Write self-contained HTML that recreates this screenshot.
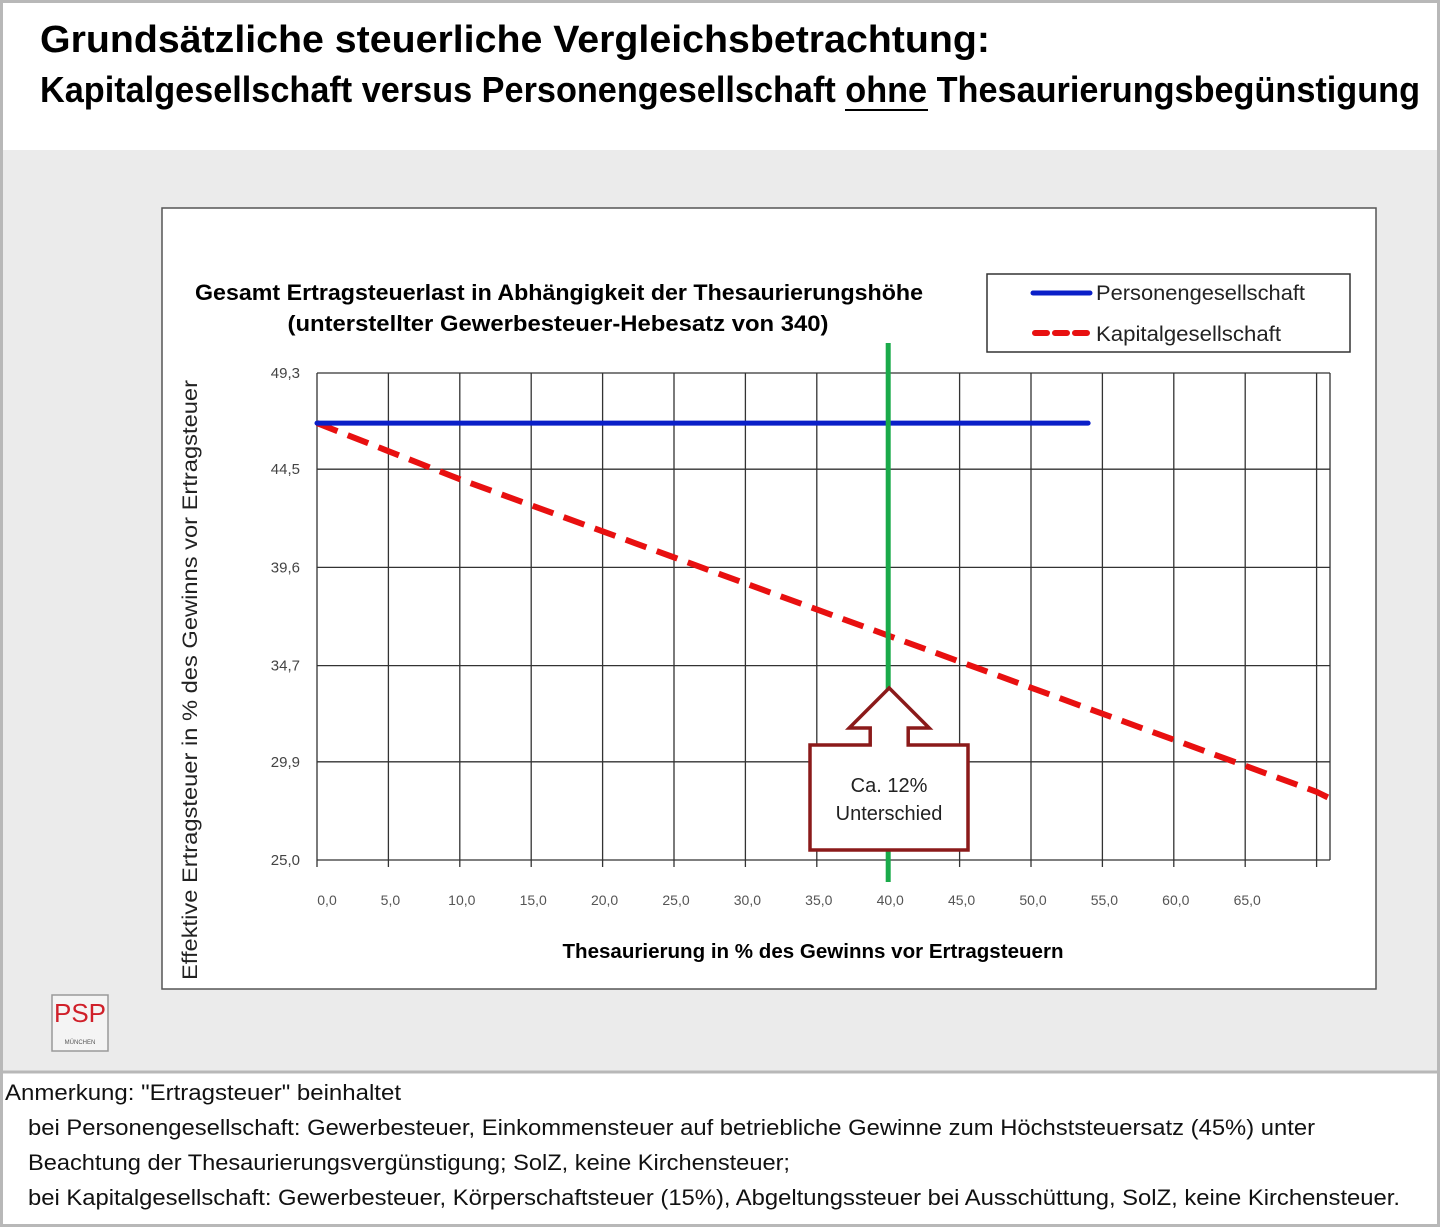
<!DOCTYPE html>
<html><head><meta charset="utf-8"><style>
html,body{margin:0;padding:0;background:#fff}
svg text{font-family:"Liberation Sans",sans-serif}
</style></head><body>
<svg id="chart" width="1440" height="1227" xmlns="http://www.w3.org/2000/svg">
<rect x="1.5" y="1.5" width="1437" height="1224" fill="#fff" stroke="#b8b8b8" stroke-width="3"/>
<text x="40" y="52" font-size="38" font-weight="bold" textLength="950" lengthAdjust="spacingAndGlyphs">Grundsätzliche steuerliche Vergleichsbetrachtung:</text>
<text x="40" y="102" font-size="36" font-weight="bold" textLength="1380" lengthAdjust="spacingAndGlyphs">Kapitalgesellschaft versus Personengesellschaft ohne Thesaurierungsbegünstigung</text>
<line x1="845" y1="110" x2="928" y2="110" stroke="#000" stroke-width="2"/>
<rect x="3" y="150" width="1434" height="922" fill="#ebebeb"/>
<line x1="3" y1="1072" x2="1437" y2="1072" stroke="#b8b8b8" stroke-width="3"/>
<rect x="162" y="208" width="1214" height="781" fill="#fff" stroke="#555" stroke-width="1.5"/>
<text x="559" y="300" font-size="22" font-weight="bold" text-anchor="middle" textLength="728" lengthAdjust="spacingAndGlyphs">Gesamt Ertragsteuerlast in Abhängigkeit der Thesaurierungshöhe</text>
<text x="558" y="331" font-size="22" font-weight="bold" text-anchor="middle" textLength="541" lengthAdjust="spacingAndGlyphs">(unterstellter Gewerbesteuer-Hebesatz von 340)</text>
<g>
<rect x="987" y="274" width="363" height="78" fill="#fff" stroke="#333" stroke-width="1.5"/>
<line x1="1033" y1="293" x2="1090" y2="293" stroke="#0a1fc8" stroke-width="5" stroke-linecap="round"/>
<text x="1096" y="300" font-size="21" fill="#222" textLength="209" lengthAdjust="spacingAndGlyphs">Personengesellschaft</text>
<line x1="1035" y1="333" x2="1090" y2="333" stroke="#e81010" stroke-width="6" stroke-dasharray="12,8" stroke-linecap="round"/>
<text x="1096" y="341" font-size="21" fill="#222" textLength="185" lengthAdjust="spacingAndGlyphs">Kapitalgesellschaft</text>
</g>
<g id="plot"></g>
<text transform="translate(197,680) rotate(-90)" font-size="21" fill="#222" text-anchor="middle" textLength="600" lengthAdjust="spacingAndGlyphs">Effektive Ertragsteuer in % des Gewinns vor Ertragsteuer</text>
<text x="813" y="958" font-size="20" font-weight="bold" text-anchor="middle" textLength="501" lengthAdjust="spacingAndGlyphs">Thesaurierung in % des Gewinns vor Ertragsteuern</text>
<g>
<rect x="52" y="995" width="56" height="56" fill="#f4f4f4" stroke="#999" stroke-width="1.5"/>
<text x="80" y="1022" font-size="26" fill="#d0202a" text-anchor="middle">PSP</text>
<text x="80" y="1044" font-size="6" fill="#555" text-anchor="middle">MÜNCHEN</text>
</g>
<g font-size="22" fill="#111">
<text x="5" y="1100" textLength="396" lengthAdjust="spacingAndGlyphs">Anmerkung: "Ertragsteuer" beinhaltet</text>
<text x="28" y="1135" textLength="1287" lengthAdjust="spacingAndGlyphs">bei Personengesellschaft:  Gewerbesteuer, Einkommensteuer auf betriebliche Gewinne zum Höchststeuersatz (45%) unter</text>
<text x="28" y="1170" textLength="762" lengthAdjust="spacingAndGlyphs">Beachtung der Thesaurierungsvergünstigung; SolZ, keine Kirchensteuer;</text>
<text x="28" y="1205" textLength="1372" lengthAdjust="spacingAndGlyphs">bei Kapitalgesellschaft: Gewerbesteuer, Körperschaftsteuer (15%), Abgeltungssteuer bei Ausschüttung, SolZ, keine Kirchensteuer.</text>
</g>
</svg>
<script>
const yTicks = [25.0, 29.9, 34.7, 39.6, 44.5, 49.3];
const yTickLabels = ["25,0","29,9","34,7","39,6","44,5","49,3"];
const xTicks = [0,5,10,15,20,25,30,35,40,45,50,55,60,65];
const xTickLabels = ["0,0","5,0","10,0","15,0","20,0","25,0","30,0","35,0","40,0","45,0","50,0","55,0","60,0","65,0"];
const xGrid = [0,5,10,15,20,25,30,35,40,45,50,55,60,65,70];
const personenX = [0, 54];
const personenY = [46.8, 46.8];
const kapitalX = [0,5,10,15,20,25,30,35,40,45,50,55,60,65,70,71];
const kapitalY = [46.8,45.4,44.0,42.7,41.4,40.1,38.8,37.5,36.2,34.9,33.6,32.3,31.0,29.7,28.4,28.05];
const markerX = 40;

const NS = "http://www.w3.org/2000/svg";
const X0 = 317, PX = 14.28, Y0 = 860, YT = 373, YMIN = 25.0, YMAX = 49.3;
const xs = v => X0 + v * PX;
const ys = v => Y0 - (v - YMIN) / (YMAX - YMIN) * (Y0 - YT);
const XR = 1330;
const g = document.getElementById('plot');
function mk(tag, attrs) { const e = document.createElementNS(NS, tag); for (const k in attrs) e.setAttribute(k, attrs[k]); g.appendChild(e); return e; }

yTicks.forEach((v, i) => {
  const l = mk('line', {x1: X0, x2: XR, y1: ys(v), y2: ys(v), stroke: '#333', 'stroke-width': 1.3});
  
  
  const t = mk('text', {x: 300, y: ys(v) + 5, 'font-size': 15, fill: '#444', 'text-anchor': 'end'});
  t.textContent = yTickLabels[i];
  
  
});
xGrid.forEach(v => {
  const l = mk('line', {x1: xs(v), x2: xs(v), y1: YT, y2: Y0 + 7, stroke: '#333', 'stroke-width': 1.3});
  
  
});
const rb = mk('line', {x1: XR, x2: XR, y1: YT, y2: Y0, stroke: '#333', 'stroke-width': 1.3});


xTicks.forEach((v, i) => {
  const t = mk('text', {x: xs(v) + (v === 0 ? 10 : 2), y: 905, 'font-size': 14, fill: '#555', 'text-anchor': 'middle'});
  t.textContent = xTickLabels[i];
  
  
});
const pts = (X, Y) => X.map((x, i) => xs(x) + ',' + ys(Y[i])).join(' ');
const red = mk('polyline', {points: pts(kapitalX, kapitalY), fill: 'none', stroke: '#e81010', 'stroke-width': 6, 'stroke-dasharray': '22,11'});


const blue = mk('polyline', {points: pts(personenX, personenY), fill: 'none', stroke: '#0a1fc8', 'stroke-width': 5, 'stroke-linecap': 'round'});


const gl = mk('line', {x1: xs(markerX), x2: xs(markerX), y1: 343, y2: 882, stroke: '#1aaa4a', 'stroke-width': 5});


const cx = xs(markerX) + 1;
const arrow = mk('path', {d: `M${cx},688 L${cx+40},728 L${cx+19},728 L${cx+19},745 L968,745 L968,850 L810,850 L810,745 L${cx-19},745 L${cx-19},728 L${cx-40},728 Z`, fill: '#fff', stroke: '#8b1a1a', 'stroke-width': 3.5});


const t1 = mk('text', {x: 889, y: 792, 'font-size': 20, fill: '#222', 'text-anchor': 'middle'});
t1.textContent = 'Ca. 12%';


const t2 = mk('text', {x: 889, y: 820, 'font-size': 20, fill: '#222', 'text-anchor': 'middle'});
t2.textContent = 'Unterschied';


</script>
</body></html>
